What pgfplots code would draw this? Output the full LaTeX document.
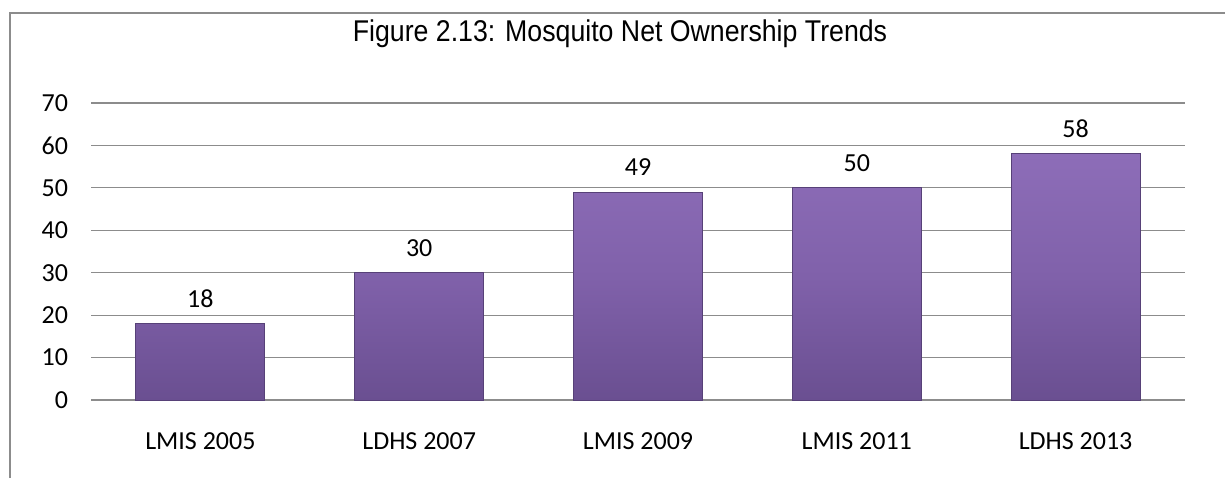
\documentclass[border=0pt]{standalone}
\usepackage{pgfplots}
\pgfplotsset{compat=1.18}
\usepackage{fontspec}
\setmainfont{Carlito}
\newfontfamily\arialfont{Liberation Sans}
\definecolor{barmid}{HTML}{8061AA}
\definecolor{bartop}{HTML}{8D6DB8}
\definecolor{barbot}{HTML}{6A4F91}
\definecolor{baredge}{HTML}{574178}
\definecolor{gridgray}{HTML}{8C8C8C}
\begin{document}
\begin{tikzpicture}[x=0.5pt,y=0.5pt]
\useasboundingbox (0,0) rectangle (1225,478);
\draw[color=gridgray, line width=0.9pt] (10,0) -- (10,465) -- (1225,465);
\node[font=\arialfont\fontsize{15}{17}\selectfont, xscale=0.89] at (620,444) {Figure 2.13: Mosquito Net Ownership Trends};
\begin{axis}[
  at={(45.5pt,39pt)}, anchor=south west,
  scale only axis, width=547pt, height=148.5pt,
  ymin=0, ymax=70, xmin=-0.5, xmax=4.5,
  ytick={0,10,...,70},
  xtick=data,
  xticklabels={LMIS 2005, LDHS 2007, LMIS 2009, LMIS 2011, LDHS 2013},
  ymajorgrids,
  grid style={gridgray, line width=0.6pt},
  axis lines*=left,
  y axis line style={draw=none},
  x axis line style={gridgray, line width=0.6pt, -},
  major tick length=0pt,
  /pgf/number format/assume math mode=true,
  tick label style={font=\fontsize{13}{15}\selectfont, text=black},
  yticklabel style={xshift=-8pt},
  xticklabel style={yshift=-13pt},
  ybar, bar width=64.5pt,
  nodes near coords,
  nodes near coords style={font=\fontsize{13}{15}\selectfont, text=black, yshift=4.5pt},
]
\addplot[draw=baredge, line width=0.5pt, top color=bartop, bottom color=barbot, middle color=barmid]
  coordinates {(0,18) (1,30) (2,49) (3,50) (4,58)};
\end{axis}
\end{tikzpicture}
\end{document}
